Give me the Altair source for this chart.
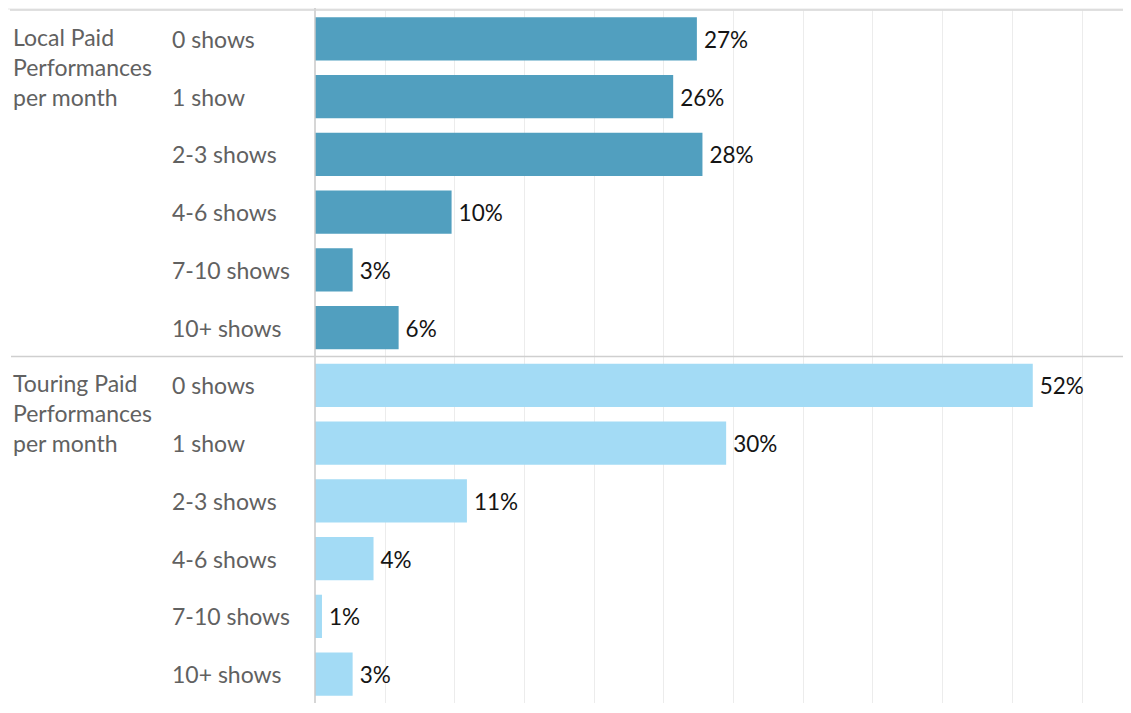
import altair as alt
import pandas as pd

groups = ["Local Paid Performances per month", "Touring Paid Performances per month"]
group_lines = [["Local Paid", "Performances", "per month"],
               ["Touring Paid", "Performances", "per month"]]
categories = ["0 shows", "1 show", "2-3 shows", "4-6 shows", "7-10 shows", "10+ shows"]
local_values = [27.4, 25.7, 27.8, 9.8, 2.7, 6.0]
touring_values = [51.5, 29.5, 10.9, 4.2, 0.5, 2.7]
local_labels = ["27%", "26%", "28%", "10%", "3%", "6%"]
touring_labels = ["52%", "30%", "11%", "4%", "1%", "3%"]
tick_values = [5, 10, 15, 20, 25, 30, 35, 40, 45, 50, 55]
group_colors = ["#519fbf", "#a3dbf5"]

W, H = 800, 693
LEFT = 307
FONT = "Lato"

rows = []
for g, vals, labs in [(groups[0], local_values, local_labels),
                      (groups[1], touring_values, touring_labels)]:
    for c, v, l in zip(categories, vals, labs):
        rows.append(dict(group=g, category=c, key=f"{g}|{c}", value=v, label=l))
df = pd.DataFrame(rows)
keys = list(df["key"])

glines = []
for g, lines in zip(groups, group_lines):
    for i, t in enumerate(lines):
        glines.append(dict(group=g, key=f"{g}|{categories[0]}", line=i, text=t))
gdf = pd.DataFrame(glines)

y = alt.Y("key:N", sort=keys, axis=None,
          scale=alt.Scale(domain=keys, paddingInner=0.25, paddingOuter=0.125))
x = alt.X("value:Q",
          scale=alt.Scale(domain=[0, 57.4], nice=False, zero=True),
          axis=alt.Axis(values=tick_values, grid=True, gridColor="#ececec",
                        gridWidth=1, labels=False, ticks=False, domain=False,
                        title=None))

base = alt.Chart(df)

bars = base.mark_bar().encode(
    x=x, y=y,
    color=alt.Color("group:N", scale=alt.Scale(domain=groups, range=group_colors),
                    legend=None),
)

values_text = base.mark_text(align="left", baseline="middle", dx=7, dy=2,
                             fontSize=22.5, font=FONT,
                             color="#151515").encode(
    x=x, y=y, text="label:N")

cat_text = base.mark_text(align="left", baseline="middle", x=-143, dy=2,
                          fontSize=23, font=FONT, color="#616161").encode(
    y=y, text="category:N")

group_layers = []
for i in range(3):
    group_layers.append(
        alt.Chart(gdf).transform_filter(alt.datum.line == i).mark_text(
            align="left", baseline="middle", x=-302, dy=30 * i,
            fontSize=23, font=FONT, color="#616161").encode(y=y, text="text:N")
    )

one = pd.DataFrame({"a": [0]})
axis_line = alt.Chart(one).mark_rule(color="#c9c9c9", strokeWidth=1.5).encode(
    x=alt.value(0), y=alt.value(-2), y2=alt.value(H))
divider = alt.Chart(one).mark_rule(color="#cfcfcf", strokeWidth=1.5).encode(
    x=alt.value(-304), x2=alt.value(W + 10), y=alt.value(H / 2))
top_band = alt.Chart(one).mark_rect(color="#f3f3f3").encode(
    x=alt.value(-LEFT), x2=alt.value(W + 10), y=alt.value(-2), y2=alt.value(0))
top_line = alt.Chart(one).mark_rule(color="#d6d6d6", strokeWidth=1.5).encode(
    x=alt.value(-305), x2=alt.value(W + 10), y=alt.value(0))

chart = alt.layer(top_band, bars, axis_line, divider, top_line, values_text,
                  cat_text, *group_layers).properties(
    width=W, height=H,
    autosize=alt.AutoSizeParams(type="none"),
    padding={"left": LEFT, "top": 2, "right": 8, "bottom": 0},
).configure_view(stroke=None)

chart.save("out.html", embed_options={"renderer": "svg", "actions": False})
